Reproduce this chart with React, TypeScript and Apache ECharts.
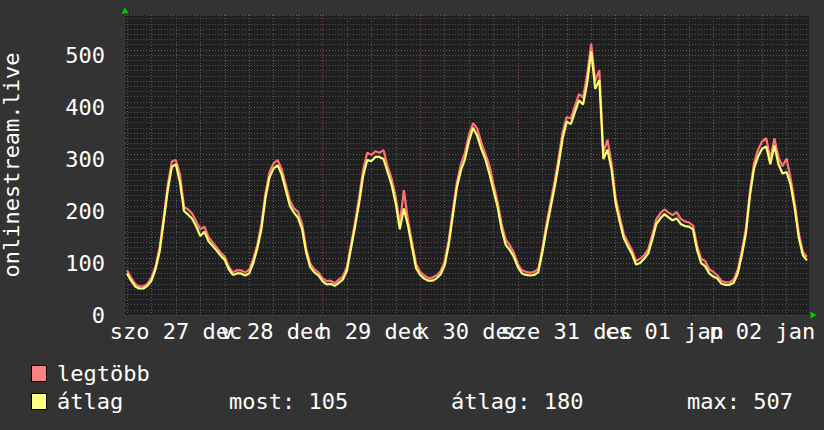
import React, { useEffect, useRef } from "react";
import * as echarts from "echarts";

// Hourly samples, hour 0 = 27 Dec 00:00
const avgValues = [
  80, 66, 55, 51, 51, 56, 66, 88, 122, 180, 240, 285, 290, 255, 200, 193, 185, 170, 152, 160, 142, 133, 124, 114,
  106, 88, 77, 80, 80, 76, 80, 100, 128, 165, 225, 265, 282, 288, 270, 240, 210, 197, 187, 165, 120, 92, 82, 76,
  65, 59, 60, 56, 62, 68, 85, 128, 170, 215, 268, 298, 296, 304, 304, 300, 275, 250, 215, 165, 205, 172, 130, 90,
  77, 70, 66, 66, 70, 78, 95, 135, 190, 245, 278, 300, 335, 360, 345, 320, 300, 272, 240, 208, 165, 135, 125, 112,
  92, 80, 77, 76, 77, 82, 120, 165, 205, 245, 290, 340, 372, 367, 390, 413, 405, 445, 507, 435, 452, 300, 318, 280,
  215, 180, 148, 132, 118, 97, 100, 108, 118, 145, 175, 186, 194, 188, 182, 186, 175, 171, 170, 165, 125, 100, 94, 80,
  74, 70, 60, 58, 58, 62, 80, 115, 157, 230, 282, 305, 320, 324, 290, 326, 290, 272, 275, 250, 205, 148, 115, 105,
];
const maxValues = [
  86, 72, 60, 55, 55, 60, 72, 94, 130, 188, 250, 295, 298, 270, 208, 203, 195, 180, 165, 170, 150, 140, 130, 120,
  112, 93, 82, 86, 86, 82, 87, 108, 135, 175, 234, 275, 292, 298, 280, 250, 220, 205, 198, 175, 128, 98, 88, 82,
  71, 65, 66, 61, 68, 74, 92, 135, 178, 226, 280, 312, 308, 315, 312, 317, 286, 262, 226, 175, 240, 182, 140, 98,
  83, 76, 71, 72, 76, 84, 103, 143, 200, 254, 290, 312, 347, 369, 359, 332, 310, 288, 252, 218, 175, 145, 134, 120,
  98, 86, 83, 81, 83, 88, 128, 174, 215, 256, 302, 352, 381, 378, 402, 425, 418, 462, 522, 450, 471, 312, 337, 292,
  226, 190, 156, 140, 125, 104, 108, 115, 126, 154, 184, 196, 203, 197, 192, 198, 185, 180, 178, 172, 134, 108, 104, 88,
  83, 76, 66, 63, 63, 68, 87, 123, 166, 238, 292, 318, 334, 340, 300, 340, 303, 286, 301, 262, 215, 157, 121, 112,
];
const hourCategories = avgValues.map((_, i) => String(i));

const dayLabels = ["szo 27 dec", "v 28 dec", "h 29 dec", "k 30 dec", "sze 31 dec", "cs 01 jan", "p 02 jan"];
const labelHours = [12, 36, 60, 84, 108, 132, 156];
const midnightHours = [0, 24, 48, 72, 96, 120, 144];
const minorHours = [6, 12, 18, 30, 36, 42, 54, 60, 66, 78, 84, 90, 102, 108, 114, 126, 132, 138, 150, 156, 162];

const yTitle = "onlinestream.live";
const seriesNames = ["legtöbb", "átlag"];
const statLabels = ["most: 105", "átlag: 180", "max: 507"];

const FONT = "DejaVu Sans Mono";
const FS = 22;

export default function App() {
  const ref = useRef<HTMLDivElement>(null);
  useEffect(() => {
    const chart = echarts.init(ref.current!, null, { renderer: "svg" });
    const xBase: any = {
      type: "value",
      min: -0.5,
      max: 167.5,
      axisLine: { show: false },
      axisTick: { show: false },
      axisLabel: { show: false },
      splitLine: { show: false },
    };
    const option: any = {
      animation: false,
      backgroundColor: "#333333",
      grid: {
        left: 125,
        top: 15,
        width: 684,
        height: 300,
        show: true,
        backgroundColor: "#202020",
        borderWidth: 0,
        outerBoundsMode: "none",
      },
      xAxis: [
        {
          type: "category",
          data: hourCategories,
          boundaryGap: true,
          position: "bottom",
          axisLine: { show: false },
          axisTick: { show: false },
          splitLine: { show: false },
          axisLabel: {
            show: true,
            interval: 0,
            formatter: (_v: string, idx: number) => {
              const k = labelHours.indexOf(idx);
              return k >= 0 ? dayLabels[k] : "";
            },
            color: "#ffffff",
            fontFamily: FONT,
            fontSize: FS,
            margin: 5,
            hideOverlap: false,
          },
        },
        {
          ...xBase,
          axisTick: { show: false, customValues: minorHours },
          splitLine: { show: true, lineStyle: { color: "#5c5c5c", type: [1, 2], width: 1 } },
        },
        {
          ...xBase,
          axisTick: { show: false, customValues: midnightHours },
          splitLine: { show: true, lineStyle: { color: "#8c4444", type: [1, 2], width: 1 } },
        },
      ],
      yAxis: [
        {
          type: "value",
          min: 0,
          max: 577,
          interval: 100,
          position: "left",
          axisLine: { show: false },
          axisTick: { show: false },
          axisLabel: {
            color: "#ffffff",
            fontFamily: FONT,
            fontSize: FS,
            margin: 20,
            showMaxLabel: false,
          },
          splitLine: { show: true, lineStyle: { color: "#8c4444", type: [1, 2], width: 1 } },
          name: yTitle,
          nameLocation: "middle",
          nameRotate: 90,
          nameGap: 103,
          nameMoveOverlap: false,
          nameTextStyle: { color: "#ffffff", fontFamily: FONT, fontSize: FS },
          z: 2,
        },
        {
          type: "value",
          min: 0,
          max: 577,
          interval: 10,
          axisLine: { show: false },
          axisTick: { show: false },
          axisLabel: { show: false },
          splitLine: { show: true, lineStyle: { color: "#505050", type: [1, 2], width: 1 } },
          z: 1,
        },
      ],
      series: [
        {
          type: "line",
          name: seriesNames[0],
          xAxisIndex: 0,
          yAxisIndex: 0,
          data: maxValues,
          showSymbol: false,
          lineStyle: { color: "#ff7272", width: 2.2 },
          z: 3,
        },
        {
          type: "line",
          name: seriesNames[1],
          xAxisIndex: 0,
          yAxisIndex: 0,
          data: avgValues,
          showSymbol: false,
          lineStyle: { color: "#ffff6e", width: 2.2 },
          z: 4,
        },
      ],
      graphic: [
        { type: "polygon", shape: { points: [[121.5, 13.5], [128.5, 13.5], [125, 7.5]] }, style: { fill: "#00cc00" } },
        { type: "polygon", shape: { points: [[810.5, 311.5], [810.5, 318.5], [816.5, 315]] }, style: { fill: "#00cc00" } },
        { type: "rect", shape: { x: 31.5, y: 365.5, width: 15, height: 16 }, style: { fill: "#ff8080", stroke: "#000000", lineWidth: 1 } },
        { type: "rect", shape: { x: 31.5, y: 393.5, width: 15, height: 16 }, style: { fill: "#ffff80", stroke: "#000000", lineWidth: 1 } },
        { type: "text", x: 57, y: 373.5, style: { text: seriesNames[0], fill: "#ffffff", font: `${FS}px "${FONT}"`, verticalAlign: "middle" } },
        { type: "text", x: 57, y: 401.5, style: { text: seriesNames[1], fill: "#ffffff", font: `${FS}px "${FONT}"`, verticalAlign: "middle" } },
        { type: "text", x: 229, y: 401.5, style: { text: statLabels[0], fill: "#ffffff", font: `${FS}px "${FONT}"`, verticalAlign: "middle" } },
        { type: "text", x: 451, y: 401.5, style: { text: statLabels[1], fill: "#ffffff", font: `${FS}px "${FONT}"`, verticalAlign: "middle" } },
        { type: "text", x: 687, y: 401.5, style: { text: statLabels[2], fill: "#ffffff", font: `${FS}px "${FONT}"`, verticalAlign: "middle" } },
      ],
    };
    chart.setOption(option);
    return () => chart.dispose();
  }, []);
  return <div ref={ref} style={{ width: 824, height: 430, position: "absolute", left: 0, top: 0 }} />;
}
